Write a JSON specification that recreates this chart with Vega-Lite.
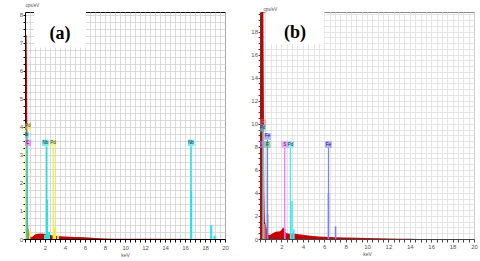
{
  "$schema": "https://vega.github.io/schema/vega-lite/v6.json",
  "padding": {"left": 18, "top": 1, "right": 0, "bottom": 0},
  "background": "white",
  "spacing": 21,
  "resolve": {"scale": {"color": "independent", "x": "independent", "y": "independent"}},
  "config": {"font": "Liberation Sans", "concat": {"spacing": 21}},
  "datasets": {
    "specA": [
      {"keV": 0, "cps": 0}, {"keV": 0.03, "cps": 1.5}, {"keV": 0.06, "cps": 6.8}, {"keV": 0.1, "cps": 7.3},
      {"keV": 0.16, "cps": 7.25}, {"keV": 0.2, "cps": 6.0}, {"keV": 0.24, "cps": 3.5}, {"keV": 0.28, "cps": 1.2},
      {"keV": 0.32, "cps": 0.4}, {"keV": 0.4, "cps": 0.2}, {"keV": 0.5, "cps": 0.1}, {"keV": 0.6, "cps": 0.06},
      {"keV": 0.8, "cps": 0.1}, {"keV": 1.0, "cps": 0.16}, {"keV": 1.3, "cps": 0.19}, {"keV": 1.6, "cps": 0.2},
      {"keV": 1.9, "cps": 0.19}, {"keV": 2.1, "cps": 0.17}, {"keV": 2.3, "cps": 0.2}, {"keV": 2.5, "cps": 0.15},
      {"keV": 2.8, "cps": 0.12}, {"keV": 3.0, "cps": 0.12}, {"keV": 3.5, "cps": 0.1}, {"keV": 4, "cps": 0.09},
      {"keV": 5, "cps": 0.07}, {"keV": 6, "cps": 0.06}, {"keV": 7, "cps": 0.04}, {"keV": 8, "cps": 0.02},
      {"keV": 9, "cps": 0.01}, {"keV": 12, "cps": 0.005}, {"keV": 20, "cps": 0}
    ],
    "peakA": [
      {"el": "Pd", "keV": 0.45, "cps": 0.3}, {"el": "Nb", "keV": 2.0, "cps": 0.15}, {"el": "Nb", "keV": 2.2, "cps": 1.4},
      {"el": "Nb", "keV": 2.4, "cps": 0.25}, {"el": "Pd", "keV": 3.0, "cps": 0.4}, {"el": "Pd", "keV": 3.3, "cps": 0.15},
      {"el": "Nb", "keV": 16.62, "cps": 1.7}, {"el": "Nb", "keV": 18.62, "cps": 0.5}, {"el": "Nb", "keV": 18.95, "cps": 0.12}
    ],
    "lineA": [
      {"el": "Pd", "keV": 0.06, "cps": 3.9}, {"el": "Nb", "keV": 0.2, "cps": 3.6},
      {"el": "Nb", "keV": 2.17, "cps": 3.3}, {"el": "Pd", "keV": 2.84, "cps": 3.3}, {"el": "Nb", "keV": 16.6, "cps": 3.3}
    ],
    "labA": [
      {"el": "Pd", "keV": 0.27, "cps": 4.02}, {"el": "Nb", "keV": 0.05, "cps": 3.72}, {"el": "C", "keV": 0.27, "cps": 3.43},
      {"el": "Nb", "keV": 2.04, "cps": 3.43}, {"el": "Pd", "keV": 2.8, "cps": 3.43}, {"el": "Nb", "keV": 16.6, "cps": 3.43}
    ],
    "boxA": [{"keV": 0.9, "keV2": 6.1, "cps": 6.83, "cps2": 8.1, "tx": 3.5, "ty": 7.3, "txt": "(a)"}],
    "specB": [
      {"keV": 0, "cps": 0}, {"keV": 0.04, "cps": 3}, {"keV": 0.08, "cps": 19}, {"keV": 0.12, "cps": 25},
      {"keV": 0.2, "cps": 25}, {"keV": 0.3, "cps": 22}, {"keV": 0.36, "cps": 12}, {"keV": 0.4, "cps": 4},
      {"keV": 0.45, "cps": 1.5}, {"keV": 0.55, "cps": 1.2}, {"keV": 0.65, "cps": 0.8}, {"keV": 0.75, "cps": 0.4},
      {"keV": 0.9, "cps": 0.35}, {"keV": 1.0, "cps": 0.4}, {"keV": 1.2, "cps": 0.5}, {"keV": 1.4, "cps": 0.6},
      {"keV": 1.6, "cps": 0.65}, {"keV": 1.8, "cps": 0.65}, {"keV": 2.0, "cps": 0.75}, {"keV": 2.15, "cps": 1.0},
      {"keV": 2.25, "cps": 0.9}, {"keV": 2.35, "cps": 0.6}, {"keV": 2.5, "cps": 0.5}, {"keV": 2.8, "cps": 0.45},
      {"keV": 3.0, "cps": 0.48}, {"keV": 3.3, "cps": 0.45}, {"keV": 3.6, "cps": 0.42}, {"keV": 4.0, "cps": 0.36},
      {"keV": 4.5, "cps": 0.3}, {"keV": 5, "cps": 0.26}, {"keV": 5.5, "cps": 0.22}, {"keV": 6, "cps": 0.2},
      {"keV": 6.5, "cps": 0.18}, {"keV": 7, "cps": 0.16}, {"keV": 8, "cps": 0.12}, {"keV": 9, "cps": 0.1},
      {"keV": 10, "cps": 0.08}, {"keV": 11, "cps": 0.06}, {"keV": 12, "cps": 0.05}, {"keV": 13, "cps": 0.03},
      {"keV": 14, "cps": 0.02}, {"keV": 15, "cps": 0.01}, {"keV": 16, "cps": 0.005}, {"keV": 20, "cps": 0}
    ],
    "peakB": [
      {"el": "C", "keV": 0.45, "cps": 1.3}, {"el": "Fe", "keV": 0.71, "cps": 2.2}, {"el": "S", "keV": 2.31, "cps": 0.9},
      {"el": "Pd", "keV": 2.99, "cps": 3.3}, {"el": "Pd", "keV": 3.17, "cps": 0.85},
      {"el": "Fe", "keV": 6.4, "cps": 4.0}, {"el": "Fe", "keV": 7.06, "cps": 1.1}
    ],
    "lineB": [
      {"el": "C", "keV": 0.277, "cps": 9.8}, {"el": "Pd", "keV": 0.3, "cps": 9.3}, {"el": "F", "keV": 0.677, "cps": 7.9},
      {"el": "Fe", "keV": 0.705, "cps": 8.6}, {"el": "S", "keV": 2.31, "cps": 7.9}, {"el": "Pd", "keV": 2.84, "cps": 7.9},
      {"el": "Fe", "keV": 6.4, "cps": 7.9}
    ],
    "labB": [
      {"el": "C", "keV": 0.23, "cps": 10.1}, {"el": "Pd", "keV": 0.23, "cps": 9.6}, {"el": "Fe", "keV": 0.705, "cps": 8.9},
      {"el": "S", "keV": 0.02, "cps": 8.2}, {"el": "F", "keV": 0.68, "cps": 8.2}, {"el": "S", "keV": 2.31, "cps": 8.2},
      {"el": "Pd", "keV": 2.84, "cps": 8.2}, {"el": "Fe", "keV": 6.4, "cps": 8.2}
    ],
    "boxB": [{"keV": 0.55, "keV2": 6.0, "cps": 16.9, "cps2": 19.7, "tx": 3.27, "ty": 17.9, "txt": "(b)"}]
  },
  "hconcat": [
    {
      "width": 200,
      "height": 227,
      "view": {"stroke": "#000", "strokeWidth": 1},
      "encoding": {
        "x": {"field": "keV", "type": "quantitative", "scale": {"domain": [0, 20], "nice": false},
          "axis": {"title": "keV", "values": [0,0.5,1,1.5,2,2.5,3,3.5,4,4.5,5,5.5,6,6.5,7,7.5,8,8.5,9,9.5,10,10.5,11,11.5,12,12.5,13,13.5,14,14.5,15,15.5,16,16.5,17,17.5,18,18.5,19,19.5,20],
            "labelExpr": "datum.value % 2 === 0 && datum.value > 0 ? format(datum.value, 'd') : ''",
            "grid": true, "gridColor": "#d2d2d2", "gridWidth": 0.8, "domainColor": "#000", "tickColor": "#000", "tickSize": 3,
            "labelFontSize": 6, "labelColor": "#555", "labelPadding": 2, "labelOverlap": false, "labelFlush": false,
            "titleFontSize": 5, "titleColor": "#555", "titlePadding": 2, "titleFontWeight": "normal"}},
        "y": {"field": "cps", "type": "quantitative", "scale": {"domain": [0, 8.1], "nice": false},
          "axis": {"title": "cps/eV", "values": [0,0.25,0.5,0.75,1,1.25,1.5,1.75,2,2.25,2.5,2.75,3,3.25,3.5,3.75,4,4.25,4.5,4.75,5,5.25,5.5,5.75,6,6.25,6.5,6.75,7,7.25,7.5,7.75,8],
            "labelExpr": "datum.value % 1 === 0 ? format(datum.value, 'd') : ''",
            "grid": true, "gridColor": "#d2d2d2", "gridWidth": 0.8, "domainColor": "#000", "tickColor": "#000", "tickSize": 2,
            "labelFontSize": 6, "labelColor": "#555", "labelPadding": 0.5, "labelOverlap": false, "labelFlush": false,
            "titleFontSize": 4.5, "titleColor": "#555", "titleFontWeight": "normal", "titleAngle": 0, "titleAlign": "left",
            "titleBaseline": "bottom", "titleX": 0, "titleY": -5}}
      },
      "layer": [
        {"data": {"name": "boxA"}, "mark": {"type": "rect", "color": "white"},
          "encoding": {"x2": {"field": "keV2"}, "y2": {"field": "cps2"}}},
        {"data": {"name": "boxA"}, "mark": {"type": "text", "font": "Liberation Serif", "fontWeight": "bold", "fontSize": 18, "color": "#000", "baseline": "middle", "align": "center"},
          "encoding": {"x": {"field": "tx", "type": "quantitative"}, "y": {"field": "ty", "type": "quantitative"}, "text": {"field": "txt"}}},
        {"data": {"name": "specA"}, "mark": {"type": "area", "color": "#c40000", "clip": true}},
        {"data": {"name": "peakA"}, "mark": {"type": "rule", "strokeWidth": 2, "clip": true},
          "encoding": {"y2": {"datum": 0}, "color": {"field": "el", "type": "nominal", "legend": null,
            "scale": {"domain": ["C", "Nb", "Pd"], "range": ["#ff5cff", "#22e6e6", "#eeee44"]}}}},
        {"data": {"name": "lineA"}, "mark": {"type": "rule", "strokeWidth": 1.6, "clip": true},
          "encoding": {"y2": {"datum": 0}, "color": {"field": "el", "type": "nominal", "legend": null}}},
        {"data": {"name": "labA"}, "mark": {"type": "square", "size": 44, "opacity": 0.6, "filled": true, "clip": true},
          "encoding": {"color": {"field": "el", "type": "nominal", "legend": null}}},
        {"data": {"name": "labA"}, "mark": {"type": "text", "fontSize": 4.5, "color": "#1a1a50", "clip": true, "baseline": "middle"},
          "encoding": {"text": {"field": "el"}}}
      ]
    },
    {
      "width": 214,
      "height": 227,
      "view": {"stroke": "#888", "strokeWidth": 1},
      "encoding": {
        "x": {"field": "keV", "type": "quantitative", "scale": {"domain": [0, 20], "nice": false},
          "axis": {"title": "keV", "values": [0,0.5,1,1.5,2,2.5,3,3.5,4,4.5,5,5.5,6,6.5,7,7.5,8,8.5,9,9.5,10,10.5,11,11.5,12,12.5,13,13.5,14,14.5,15,15.5,16,16.5,17,17.5,18,18.5,19,19.5,20],
            "labelExpr": "datum.value % 2 === 0 && datum.value > 0 ? format(datum.value, 'd') : ''",
            "grid": true, "gridColor": "#dedede", "gridWidth": 0.8, "domainColor": "#444", "tickColor": "#444", "tickSize": 3,
            "labelFontSize": 6, "labelColor": "#555", "labelPadding": 1.5, "labelOverlap": false, "labelFlush": false,
            "titleFontSize": 5, "titleColor": "#555", "titlePadding": 2, "titleFontWeight": "normal"}},
        "y": {"field": "cps", "type": "quantitative", "scale": {"domain": [0, 19.7], "nice": false},
          "axis": {"title": "cps/eV", "values": [0,0.5,1,1.5,2,2.5,3,3.5,4,4.5,5,5.5,6,6.5,7,7.5,8,8.5,9,9.5,10,10.5,11,11.5,12,12.5,13,13.5,14,14.5,15,15.5,16,16.5,17,17.5,18,18.5,19,19.5],
            "labelExpr": "datum.value % 2 === 0 ? format(datum.value, 'd') : ''",
            "grid": true, "gridColor": "#dedede", "gridWidth": 0.8, "domainColor": "#444", "tickColor": "#444", "tickSize": 2,
            "labelFontSize": 6, "labelColor": "#555", "labelPadding": 0.5, "labelOverlap": false, "labelFlush": false,
            "titleFontSize": 4.5, "titleColor": "#555", "titleFontWeight": "normal", "titleAngle": 0, "titleAlign": "left",
            "titleBaseline": "bottom", "titleX": 3, "titleY": -1}}
      },
      "layer": [
        {"data": {"name": "boxB"}, "mark": {"type": "rect", "color": "white"},
          "encoding": {"x2": {"field": "keV2"}, "y2": {"field": "cps2"}}},
        {"data": {"name": "boxB"}, "mark": {"type": "text", "font": "Liberation Serif", "fontWeight": "bold", "fontSize": 18, "color": "#000", "baseline": "middle", "align": "center"},
          "encoding": {"x": {"field": "tx", "type": "quantitative"}, "y": {"field": "ty", "type": "quantitative"}, "text": {"field": "txt"}}},
        {"data": {"name": "specB"}, "mark": {"type": "area", "color": "#c40000", "clip": true}},
        {"data": {"name": "peakB"}, "mark": {"type": "rule", "strokeWidth": 1.6, "clip": true},
          "encoding": {"y2": {"datum": 0}, "color": {"field": "el", "type": "nominal", "legend": null,
            "scale": {"domain": ["C", "F", "Fe", "Pd", "S"], "range": ["#ff6a6a", "#3fbf6f", "#7c7cff", "#4ee6f0", "#ff6cff"]}}}},
        {"data": {"name": "lineB"}, "mark": {"type": "rule", "strokeWidth": 1.2, "clip": true},
          "encoding": {"y2": {"datum": 0}, "color": {"field": "el", "type": "nominal", "legend": null}}},
        {"data": {"name": "labB"}, "mark": {"type": "square", "size": 44, "opacity": 0.6, "filled": true, "clip": true},
          "encoding": {"color": {"field": "el", "type": "nominal", "legend": null}}},
        {"data": {"name": "labB"}, "mark": {"type": "text", "fontSize": 4.5, "color": "#1a1a50", "clip": true, "baseline": "middle"},
          "encoding": {"text": {"field": "el"}}}
      ]
    }
  ]
}
